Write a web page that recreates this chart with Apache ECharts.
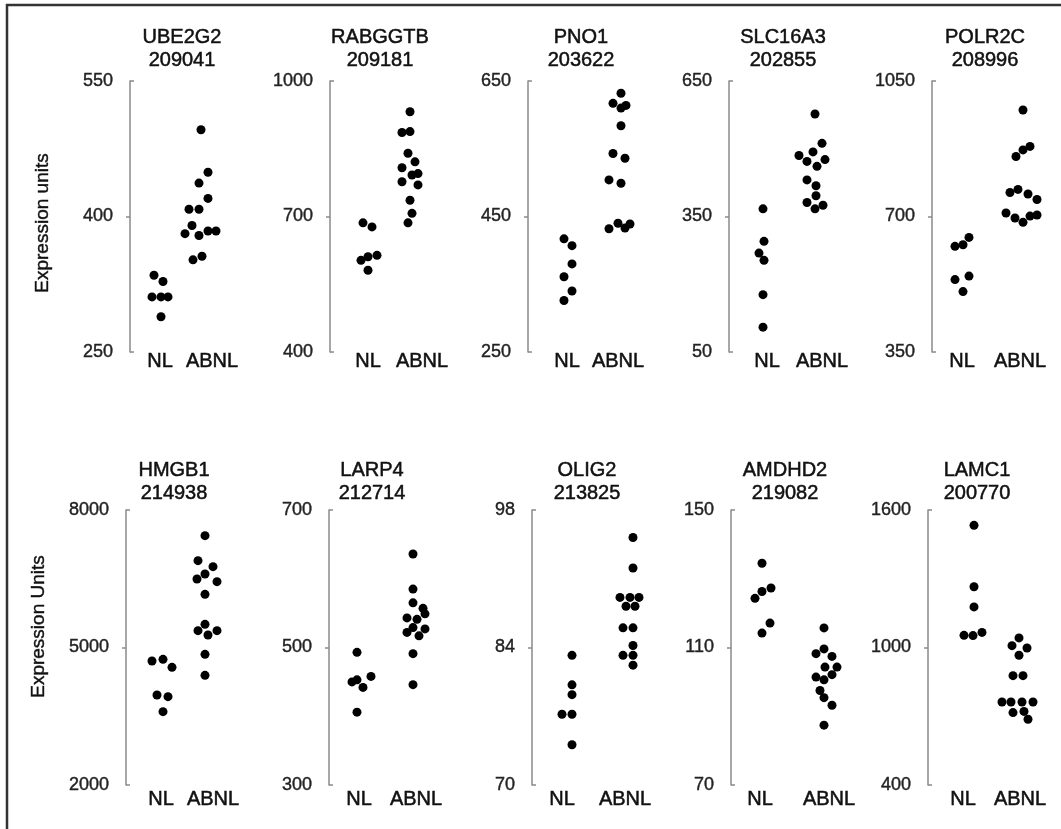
<!DOCTYPE html>
<html><head><meta charset="utf-8">
<script src="https://cdn.jsdelivr.net/npm/echarts@6/dist/echarts.min.js"></script>
<style>html,body{margin:0;padding:0;background:#fff}#c{width:1061px;height:829px}</style>
</head><body><div id="c"></div>
<script>
// ---------- DATA ----------
const genes  = ['UBE2G2','RABGGTB','PNO1','SLC16A3','POLR2C','HMGB1','LARP4','OLIG2','AMDHD2','LAMC1'];
const probes = ['209041','209181','203622','202855','208996','214938','212714','213825','219082','200770'];
const groupLabels = ['NL','ABNL'];
const yTitles = ['Expression units','Expression Units'];
const yTicks = [
  [250,400,550],[400,700,1000],[250,450,650],[50,350,650],[350,700,1050],
  [2000,5000,8000],[300,500,700],[70,84,98],[70,110,150],[400,1000,1600]
];
const nlValues = [
  [335, 328, 311, 311, 311, 289],
  [686, 677, 603, 611, 614, 581],
  [417, 407, 380, 361, 340, 326],
  [367, 295, 269, 253, 177, 105],
  [623, 627, 646, 537, 546, 506],
  [4705, 4742, 4567, 3964, 3927, 3600],
  [493, 450, 453, 442, 458, 406],
  [83.2, 80.2, 79.2, 77.2, 77.2, 74.1],
  [134.5, 124.3, 126.3, 127.3, 117.1, 114.2],
  [1533, 1265, 1177, 1053, 1052, 1066]
];
const abnlValues = [
  [496, 449, 437, 420, 408, 408, 390, 381, 379, 384, 384, 352, 356],
  [932, 886, 888, 840, 808, 821, 792, 795, 777, 770, 736, 707, 686],
  [632, 617, 614, 610, 584, 543, 536, 504, 499, 432, 440, 433, 439],
  [577, 512, 493, 485, 476, 472, 461, 431, 418, 396, 381, 375, 367],
  [975, 881, 872, 855, 770, 762, 758, 744, 709, 704, 701, 696, 685],
  [7440, 6895, 6764, 6604, 6495, 6436, 6160, 5505, 5367, 5273, 5367, 4851, 4393],
  [636, 585, 565, 557, 549, 543, 541, 529, 527, 522, 517, 491, 446],
  [95.2, 92.1, 89.1, 89.1, 89.1, 88.2, 88.2, 86.0, 86.0, 84.2, 83.2, 83.2, 82.2],
  [115.7, 109.6, 108.2, 107.4, 104.3, 104.3, 101.4, 100.6, 102.1, 97.5, 95.4, 93.2, 87.4],
  [1042, 1008, 998, 966, 877, 877, 762, 762, 762, 762, 716, 721, 687]
];
// horizontal swarm offsets of each dot
const nlJitter = [
  [-7, 2, -9, 0, 7, 0],
  [-5, 4, -7, 0, 9, 0],
  [-4, 4, 4, -4, 4, -4],
  [0, 1, -4, 1, 0, 0],
  [-7, 1, 7, -7, 7, 1],
  [-11, 0, 9, -6, 5, 0],
  [-2, -7, -2, 4, 12, -2],
  [0, 0, 0, -10, 0, 0],
  [0, -7, 0, 9, 8, 0],
  [0, 0, 0, -10, -1, 8]
];
const abnlJitter = [
  [1, 8, -1, 8, -11, -1, -8, -15, -1, 8, 16, -7, 2],
  [0, -8, 0, -2, -8, 5, 2, 8, -8, 8, 0, 2, -2],
  [1, -7, 6, 1, 1, -7, 5, -11, 1, -11, -2, 5, 10],
  [1, 8, -1, -15, 11, -7, 3, -7, 2, 2, -7, 9, 1],
  [1, 8, 1, -6, -4, -12, 6, 15, -16, 15, 8, -7, 1],
  [0, -7, 8, 0, -8, 12, 0, 0, -7, 3, 12, 0, 0],
  [-1, -1, -1, 9, 11, -7, 3, -1, 11, -7, 5, -1, -1],
  [0, 0, -13, -3, 6, -7, 2, -10, 0, 0, -10, 0, 0],
  [0, 0, -8, 8, 1, 13, -8, 0, 8, -4, 0, 8, 0],
  [1, -6, 9, 1, -5, 5, -16, -7, 4, 15, -5, 6, 10]
];

// ---------- LAYOUT ----------
const axisX = [130, 330, 528, 729, 932, 126, 329, 532, 731, 928];
const rowTop = [81, 510], rowHeight = [271, 275];
const GW = 120;
const nlCenter = [31, 38, 40, 34, 30, 37, 30, 40, 31, 46];
const abCenter = [70, 80, 92, 85, 90, 79, 85, 101, 93, 90];
const nlLabelPos = [30, 38, 39, 38, 30, 35, 30, 30, 29, 35];
const abLabelPos = [82, 92, 90, 93, 88, 87, 87, 93, 98, 92];
const titleX = [182, 380, 581, 783, 985, 174, 372, 587, 785, 977];
const titleTop = [26, 459];
const FONT = "'Liberation Sans', Arial, Helvetica, sans-serif";
const AXC = '#8a8a8a';
const TXT = {textBorderColor: 'inherit', textBorderWidth: 0.5};

const grid = [], xAxis = [], yAxis = [], series = [], title = [];
genes.forEach((g, i) => {
  const row = i < 5 ? 0 : 1;
  const yt = yTicks[i];
  grid.push({left: axisX[i], top: rowTop[row], width: GW, height: rowHeight[row]});
  title.push({
    text: g + '\n' + probes[i], left: titleX[i], top: titleTop[row], textAlign: 'center', padding: 0,
    textStyle: Object.assign({fontFamily: FONT, fontSize: 20, fontWeight: 'normal', color: '#111', lineHeight: 23,
      textBorderColor: '#111', textBorderWidth: 0.5})
  });
  const nlPos = nlLabelPos[i], abPos = abLabelPos[i];
  xAxis.push({
    type: 'value', gridIndex: i, min: 0, max: GW,
    axisLine: {show: false}, axisTick: {show: false}, splitLine: {show: false},
    axisLabel: {
      customValues: [nlPos, abPos],
      formatter: v => (Math.abs(v - nlPos) < 1e-6 ? groupLabels[0] : groupLabels[1]),
      fontFamily: FONT, fontSize: 20, color: '#111', margin: row ? 4 : -1,
      textBorderColor: '#111', textBorderWidth: 0.5
    }
  });
  yAxis.push({
    type: 'value', gridIndex: i, min: yt[0], max: yt[2], position: 'left',
    axisLine: {show: true, lineStyle: {color: AXC, width: 1.5}},
    axisTick: {show: true, customValues: [yt[1]], length: 4, lineStyle: {color: AXC, width: 1.5}},
    axisLabel: {customValues: yt, formatter: v => String(v), fontFamily: FONT, fontSize: 18, color: '#222', margin: 17,
      textBorderColor: '#222', textBorderWidth: 0.4},
    splitLine: {show: false},
    name: i % 5 === 0 ? yTitles[row] : '',
    nameLocation: 'middle', nameGap: 78,
    nameTextStyle: {fontFamily: FONT, fontSize: 19, color: '#111', textBorderColor: '#111', textBorderWidth: 0.4,
      padding: row ? [0, 0, 0, 42] : [0, 13, 0, 0]}
  });
  yAxis.push({
    type: 'value', gridIndex: i, min: yt[0], max: yt[2], position: 'left', offset: 0,
    axisLine: {show: false}, axisLabel: {show: false}, splitLine: {show: false},
    axisTick: {show: true, inside: true, customValues: [yt[0], yt[2]], length: 4, lineStyle: {color: AXC, width: 1.5}}
  });
  const style = {type: 'scatter', xAxisIndex: i, yAxisIndex: 2 * i, symbolSize: 9,
    itemStyle: {color: '#000', opacity: 1}, silent: true, animation: false};
  series.push(Object.assign({name: groupLabels[0],
    data: nlValues[i].map((v, k) => [nlCenter[i] + nlJitter[i][k], v])}, style));
  series.push(Object.assign({name: groupLabels[1],
    data: abnlValues[i].map((v, k) => [abCenter[i] + abnlJitter[i][k], v])}, style));
});

const chart = echarts.init(document.getElementById('c'));
chart.setOption({
  backgroundColor: '#fff',
  animation: false,
  title, grid, xAxis, yAxis, series,
  graphic: [{
    type: 'polyline', silent: true,
    shape: {points: [[7, 829], [7, 5], [1061, 5]]},
    style: {stroke: '#333', lineWidth: 2.5, fill: null}
  }]
});
</script></body></html>
